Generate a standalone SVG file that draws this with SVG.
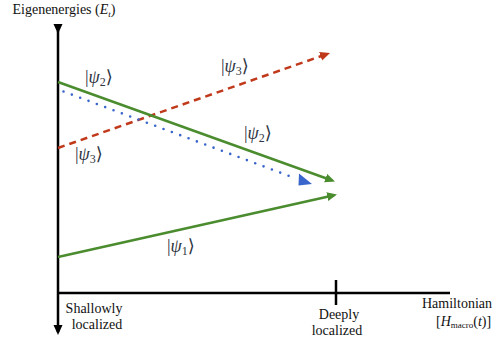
<svg xmlns="http://www.w3.org/2000/svg" width="494" height="345" viewBox="0 0 494 345">
<defs>
<style>
text{font-family:'Liberation Serif','DejaVu Serif',serif}
.t{font-size:14px;fill:#111}
.k{font-size:18px;fill:#2f3542}
.s{font-size:12px}
.ax{stroke:#000;stroke-width:2.5;fill:none}
.g{stroke:#4a8c2e;stroke-width:2.5;fill:none}
.r{stroke:#c0391b;stroke-width:2.5;fill:none;stroke-dasharray:7 5}
.b{stroke:#3a66cc;stroke-width:2.6;fill:none;stroke-dasharray:0 8.9;stroke-linecap:round}
</style>
<marker id="ak" markerUnits="userSpaceOnUse" markerWidth="12" markerHeight="10" refX="7" refY="4.5" orient="auto"><path d="M0,0 L10,4.5 L0,9 z" fill="#000"/></marker>
<marker id="ag" markerUnits="userSpaceOnUse" markerWidth="12" markerHeight="10" refX="7" refY="4.5" orient="auto"><path d="M0,0 L10,4.5 L0,9 z" fill="#4a8c2e"/></marker>
<marker id="ar" markerUnits="userSpaceOnUse" markerWidth="12" markerHeight="10" refX="7" refY="4.5" orient="auto"><path d="M0,0 L10,4.5 L0,9 z" fill="#c0391b"/></marker>
</defs>
<rect width="494" height="345" fill="#fff"/>
<g id="axes">
<line class="ax" x1="58" y1="31" x2="58" y2="332" marker-start="url(#ak)" marker-end="url(#ak)"/>
<line class="ax" x1="57" y1="293" x2="450" y2="293"/>
<line class="ax" x1="336" y1="280" x2="336" y2="305"/>
</g>
<g id="connectors">
<line class="r" x1="58" y1="148" x2="327.2" y2="54" marker-end="url(#ar)"/>
<line class="b" x1="63.5" y1="91.5" x2="296" y2="178.5"/>
<path d="M299,173.5 L312,184 L298.5,185.5 z" fill="#3a66cc"/>
<line class="g" x1="58" y1="82" x2="332.2" y2="180.5" marker-end="url(#ag)"/>
<line class="g" x1="58" y1="257" x2="334.1" y2="195.2" marker-end="url(#ag)"/>
</g>
<g id="labels">
<text class="t" x="12.5" y="14">Eigenenergies (<tspan font-style="italic">E</tspan><tspan font-style="italic" font-size="9" dy="3">t</tspan><tspan dy="-3">)</tspan></text>
<text class="t" x="94" y="313" text-anchor="middle">Shallowly</text>
<text class="t" x="97" y="329" text-anchor="middle">localized</text>
<text class="t" x="339" y="319" text-anchor="middle">Deeply</text>
<text class="t" x="337" y="335" text-anchor="middle">localized</text>
<text class="t" x="422" y="308">Hamiltonian</text>
<text class="t" x="436" y="326">[<tspan font-style="italic">H</tspan><tspan font-size="9" dy="2">macro</tspan><tspan dy="-2">(</tspan><tspan font-style="italic">t</tspan>)]</text>
</g>
<g id="psi2a"><text class="k" x="85" y="83">|<tspan font-style="italic">ψ</tspan><tspan class="s" dy="3">2</tspan><tspan dy="-3">⟩</tspan></text></g>
<g id="psi3a"><text class="k" x="75" y="160">|<tspan font-style="italic">ψ</tspan><tspan class="s" dy="3">3</tspan><tspan dy="-3">⟩</tspan></text></g>
<g id="psi3b"><text class="k" x="221" y="72">|<tspan font-style="italic">ψ</tspan><tspan class="s" dy="3">3</tspan><tspan dy="-3">⟩</tspan></text></g>
<g id="psi2b"><text class="k" x="244" y="139">|<tspan font-style="italic">ψ</tspan><tspan class="s" dy="3">2</tspan><tspan dy="-3">⟩</tspan></text></g>
<g id="psi1"><text class="k" x="167" y="252">|<tspan font-style="italic">ψ</tspan><tspan class="s" dy="3">1</tspan><tspan dy="-3">⟩</tspan></text></g>
</svg>
